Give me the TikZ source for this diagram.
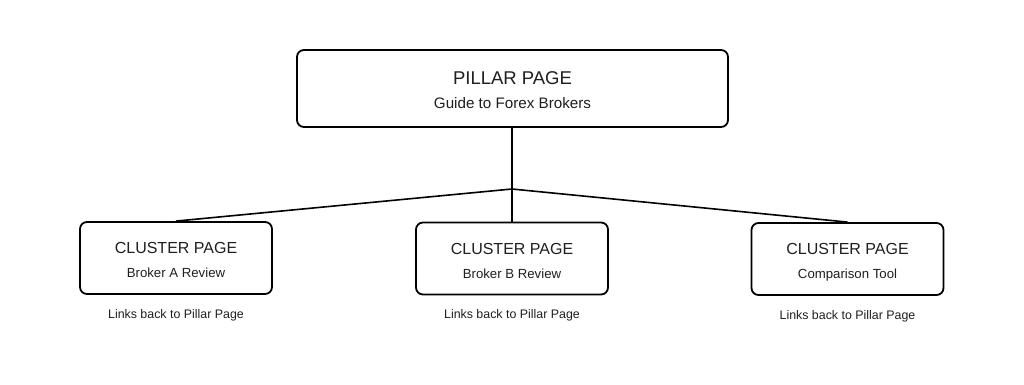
\documentclass[tikz,border=0pt]{standalone}
\usepackage{fontspec}
\setmainfont{Liberation Sans}
\tikzset{
  pagebox/.style={draw=black, line width=1.8pt, rounded corners=7pt, fill=white, inner sep=0pt},
  link/.style={draw=black, line width=1.6pt},
  titletext/.style={anchor=base, text=black!88, inner sep=0pt},
}
\begin{document}
\begin{tikzpicture}[x=1pt, y=-1pt]
    \useasboundingbox[fill=white] (0,0) rectangle (1024,385);
    % Cajas
    \node[pagebox, minimum width=431pt, minimum height=77pt] (pillar) at (512.5,88.5) {};
    \node[pagebox, minimum width=192pt, minimum height=72pt] (clustera) at (176,258) {};
    \node[pagebox, minimum width=192pt, minimum height=72pt] (clusterb) at (512,258.5) {};
    \node[pagebox, minimum width=192pt, minimum height=72pt] (clusterc) at (847.5,259) {};
    % Conexiones
    \coordinate (hub) at (512,189);
    \draw[link] (pillar.south -| hub) -- (hub);
    \draw[link] (hub) -- (clustera.north);
    \draw[link] (hub) -- (clusterb.north);
    \draw[link] (hub) -- (clusterc.north);
    % Textos
    \node[titletext, font=\fontsize{18.5}{22}\selectfont] (pillartitle) at (512.5,84.3) {PILLAR PAGE};
    \node[titletext, font=\fontsize{15.2}{18}\selectfont] (pillarsub) at (512.5,109) {Guide to Forex Brokers};
    \node[titletext, font=\fontsize{16}{19}\selectfont] (atitle) at (176,253.5) {CLUSTER PAGE};
    \node[titletext, font=\fontsize{13.2}{16}\selectfont] (asub) at (176,277.5) {Broker A Review};
    \node[titletext, font=\fontsize{12.4}{15}\selectfont] (anote) at (176,318) {Links back to Pillar Page};
    \node[titletext, font=\fontsize{16}{19}\selectfont] (btitle) at (512,254) {CLUSTER PAGE};
    \node[titletext, font=\fontsize{13.2}{16}\selectfont] (bsub) at (512,278) {Broker B Review};
    \node[titletext, font=\fontsize{12.4}{15}\selectfont] (bnote) at (512,318.5) {Links back to Pillar Page};
    \node[titletext, font=\fontsize{16}{19}\selectfont] (ctitle) at (847.5,254.5) {CLUSTER PAGE};
    \node[titletext, font=\fontsize{13.2}{16}\selectfont] (csub) at (847.5,278.5) {Comparison Tool};
    \node[titletext, font=\fontsize{12.4}{15}\selectfont] (cnote) at (847.5,319) {Links back to Pillar Page};
\end{tikzpicture}
\end{document}
